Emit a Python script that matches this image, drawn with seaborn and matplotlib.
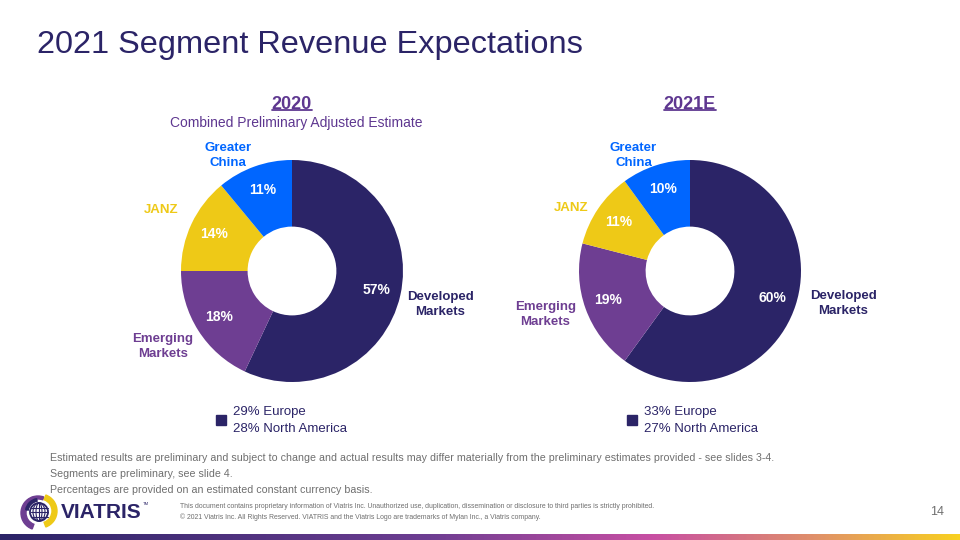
import numpy as np
import pandas as pd
import matplotlib
matplotlib.use("Agg")
import matplotlib.pyplot as plt
from matplotlib.colors import LinearSegmentedColormap
from matplotlib.patches import Wedge, Circle, Rectangle, Ellipse
from matplotlib.lines import Line2D
import seaborn as sns

# ---------------- data ----------------
segments = ["Developed\nMarkets", "Emerging\nMarkets", "JANZ", "Greater\nChina"]
share_2020 = [57, 18, 14, 11]
share_2021e = [60, 19, 11, 10]
chart_titles = ["2020", "2021E"]
chart_subtitles = ["Combined Preliminary Adjusted Estimate", ""]
dm_breakdown_2020 = ["29% Europe", "28% North America"]
dm_breakdown_2021e = ["33% Europe", "27% North America"]
title = "2021 Segment Revenue Expectations"
footnotes = [
    "Estimated results are preliminary and subject to change and actual results may differ materially from the preliminary estimates provided - see slides 3-4.",
    "Segments are preliminary, see slide 4.",
    "Percentages are provided on an estimated constant currency basis.",
]
legal = [
    "This document contains proprietary information of Viatris Inc. Unauthorized use, duplication, dissemination or disclosure to third parties is strictly prohibited.",
    "\u00a9 2021 Viatris Inc. All Rights Reserved. VIATRIS and the Viatris Logo are trademarks of Mylan Inc., a Viatris company.",
]
page_number = "14"

# ---------------- style ----------------
sns.set_theme(style="white")
plt.rcParams["font.family"] = ["Liberation Sans", "DejaVu Sans"]

NAVY = "#2B2467"
PURPLE = "#6E3E92"
YELLOW = "#EEC917"
BLUE = "#0066FF"
TITLE_PURPLE = "#5E3790"
GRAY = "#6F6F6F"
palette = sns.color_palette([NAVY, PURPLE, YELLOW, BLUE])
label_colors = {segments[0]: NAVY, segments[1]: PURPLE, segments[2]: YELLOW, segments[3]: BLUE}
# outer label placement (radius, angle offset in degrees) per chart and segment
label_place = [
    {segments[0]: (1.37, 0), segments[1]: (1.35, -2),
     segments[2]: (1.30, 0), segments[3]: (1.19, 9)},
    {segments[0]: (1.41, 6), segments[1]: (1.36, -3),
     segments[2]: (1.21, 6), segments[3]: (1.16, 8)},
]

W, H = 960, 540
fig = plt.figure(figsize=(W / 100, H / 100), dpi=100)
fig.patch.set_facecolor("white")


def px(x, y):
    return x / W, 1 - y / H


df = pd.DataFrame({"segment": segments, "y2020": share_2020, "y2021e": share_2021e})

R_PX = 111
centers = [(292, 271), (690, 271)]
cols = ["y2020", "y2021e"]
breakdowns = [dm_breakdown_2020, dm_breakdown_2021e]

for i, (cx, cy) in enumerate(centers):
    ax = fig.add_axes([(cx - R_PX) / W, (H - cy - R_PX) / H, 2 * R_PX / W, 2 * R_PX / H])
    vals = df[cols[i]].tolist()
    wedges, _, autotexts = ax.pie(
        vals, colors=palette, startangle=90, counterclock=False, radius=1,
        wedgeprops=dict(width=0.6, edgecolor="none"),
        autopct=lambda p: f"{p:.0f}%", pctdistance=0.78,
        textprops=dict(color="white", fontsize=10, fontweight="bold"),
    )
    ax.set_xlim(-1, 1)
    ax.set_ylim(-1, 1)
    ax.set_aspect("equal")
    ax.axis("off")
    for w, seg in zip(wedges, df["segment"]):
        r, dth = label_place[i][seg]
        mid = np.deg2rad((w.theta1 + w.theta2) / 2 + dth)
        ax.text(r * np.cos(mid), r * np.sin(mid), seg, ha="center", va="center",
                fontsize=9.5, fontweight="bold", color=label_colors[seg],
                linespacing=1.35, clip_on=False)

    # chart title with underline
    tx, ty = px(cx, 104)
    t = fig.text(tx, ty, chart_titles[i], ha="center", va="center",
                 fontsize=13, fontweight="bold", color=TITLE_PURPLE)
    fig.canvas.draw()
    bb = t.get_window_extent().transformed(fig.transFigure.inverted())
    fig.add_artist(Line2D([bb.x0, bb.x1], [bb.y0 + 0.004, bb.y0 + 0.004],
                          color=TITLE_PURPLE, lw=1.3, transform=fig.transFigure))
    if chart_subtitles[i]:
        sx, sy = px(cx + 4, 123)
        fig.text(sx, sy, chart_subtitles[i], ha="center", va="center",
                 fontsize=10, color=TITLE_PURPLE)

    # legend square + breakdown text
    lx = cx - 76 if i == 0 else cx - 63
    x0, y0 = px(lx, 425)
    fig.add_artist(Rectangle((x0, y0), 10 / W, 10 / H, color=NAVY,
                             transform=fig.transFigure))
    ttx, tty = px(lx + 17, 420.5)
    fig.text(ttx, tty, "\n".join(breakdowns[i]), ha="left", va="center",
             fontsize=9.5, color=NAVY, linespacing=1.45)

# main title
fig.text(*px(37, 45), title, ha="left", va="center", fontsize=23.4, color=NAVY)

# footnotes
for k, line in enumerate(footnotes):
    fig.text(*px(50, 458 + 16 * k), line, ha="left", va="center",
             fontsize=7.65, color=GRAY)

# legal text
for k, line in enumerate(legal):
    fig.text(*px(180, 507 + 10 * k), line, ha="left", va="center",
             fontsize=4.97, color=GRAY)

fig.text(*px(937, 512), page_number, ha="center", va="center",
         fontsize=9, color=GRAY)

# logo
lax = fig.add_axes([0, 0, 1, 1])
lax.set_xlim(0, W)
lax.set_ylim(H, 0)
lax.axis("off")
lax.set_zorder(-1)
lcx, lcy = 39, 512
lax.add_patch(Wedge((lcx - 1, lcy + 1), 17, 110, 250, width=5, color=PURPLE))
lax.add_patch(Wedge((lcx - 1, lcy + 1), 17, 250, 290, width=3, color=PURPLE))
lax.add_patch(Wedge((lcx + 1, lcy - 1), 17, -70, 70, width=5, color=YELLOW))
lax.add_patch(Wedge((lcx, lcy), 13.5, 190, 260, width=2.5, color=NAVY))
lax.add_patch(Circle((lcx, lcy), 9, facecolor="white", edgecolor=NAVY, lw=1.3))
for off in (-4.5, 0, 4.5):
    lax.plot([lcx - 8.5, lcx + 8.5], [lcy + off, lcy + off], color=NAVY, lw=0.8)
for wdt in (6, 12):
    lax.add_patch(Ellipse((lcx, lcy), wdt, 18, fill=False, edgecolor=NAVY, lw=0.8))
lax.plot([lcx, lcx], [lcy - 9, lcy + 9], color=NAVY, lw=0.8)
lax.text(61, 513, "VIATRIS", ha="left", va="center", fontsize=15,
         fontweight="bold", color=NAVY)
lax.text(143, 504, "TM", ha="left", va="center", fontsize=3, color=NAVY)

# bottom gradient bar
grad = LinearSegmentedColormap.from_list(
    "bar", [(0, NAVY), (0.45, PURPLE), (0.68, "#C84FA3"), (0.85, "#E0906A"), (1, "#F8D020")])
bax = fig.add_axes([0, 0, 1, 6 / H])
bax.imshow(np.linspace(0, 1, 512)[None, :], aspect="auto", cmap=grad, extent=[0, 1, 0, 1])
bax.axis("off")

fig.savefig("out.png", dpi=100, facecolor="white")
